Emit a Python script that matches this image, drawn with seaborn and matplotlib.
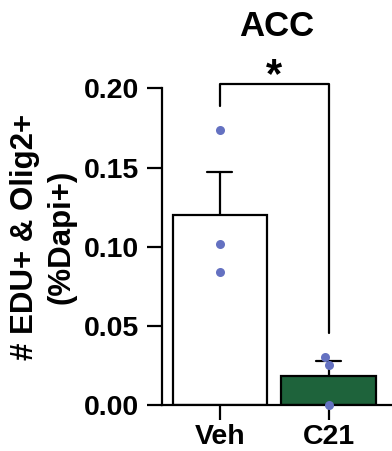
#!/usr/bin/env python3
"""Bar chart with individual points: EDU+ & Olig2+ cells in ACC, Veh vs C21."""

import matplotlib

matplotlib.use("Agg")
import matplotlib.pyplot as plt
import pandas as pd
import seaborn as sns

# values
groups = ["Veh", "C21"]
veh_values = [0.174, 0.102, 0.084]
c21_values = [0.0305, 0.0253, 0.0]
bar_colors = ["white", "#126F39"]
point_color = "#6471C1"
title = "ACC"
y_label = "# EDU+ & Olig2+\n(%Dapi+)"
y_ticks = [0.00, 0.05, 0.10, 0.15, 0.20]
sig_label = "*"


def main() -> None:
    sns.set_theme(style="ticks")
    plt.rcParams["font.family"] = ["Liberation Sans", "DejaVu Sans"]
    plt.rcParams.update(
        {
            "font.weight": "bold",
            "text.color": "black",
            "axes.labelcolor": "black",
            "xtick.color": "black",
            "ytick.color": "black",
        }
    )

    df = pd.DataFrame(
        {
            "group": [groups[0]] * len(veh_values) + [groups[1]] * len(c21_values),
            "value": veh_values + c21_values,
        }
    )

    fig = plt.figure(figsize=(3.92, 4.51), dpi=100)
    ax = fig.add_axes([0.4125, 0.102, 0.5875, 0.702])

    sns.barplot(
        data=df,
        x="group",
        y="value",
        hue="group",
        order=groups,
        palette=bar_colors,
        errorbar="se",
        capsize=0.23,
        width=0.87,
        edgecolor="black",
        linewidth=1.6,
        err_kws={"color": "black", "linewidth": 1.6, "zorder": 0.5},
        legend=False,
        ax=ax,
    )
    sns.swarmplot(
        data=df,
        x="group",
        y="value",
        order=groups,
        color=point_color,
        size=6.5,
        zorder=3,
        clip_on=False,
        ax=ax,
    )

    ax.set_xlim(-0.535, 1.58)
    ax.set_ylim(0, 0.20)
    ax.set_yticks(y_ticks)
    ax.set_yticklabels([f"{t:.2f}" for t in y_ticks])
    ax.set_xlabel("")
    ax.set_ylabel(y_label, fontsize=22.5, fontweight="bold", linespacing=1.3)
    ax.yaxis.set_label_coords(-0.37, 0.53)
    ax.tick_params(axis="both", length=11, width=1.6, labelsize=20.5, pad=5)
    ax.tick_params(axis="x", pad=2.5)
    for lab in ax.get_xticklabels() + ax.get_yticklabels():
        lab.set_fontweight("bold")
    for side in ["left", "bottom"]:
        ax.spines[side].set_linewidth(1.6)
        ax.spines[side].set_color("black")
    sns.despine(ax=ax)

    # significance bracket between the two groups
    gap = 0.015
    top = 0.203
    left_end = max(veh_values) + gap
    right_end = max(c21_values) + gap
    ax.plot(
        [0, 0, 1, 1],
        [left_end, top, top, right_end],
        color="black",
        linewidth=1.6,
        clip_on=False,
    )
    ax.text(0.5, top - 0.008, sig_label, ha="center", va="bottom", fontsize=30,
            fontweight="bold", clip_on=False)

    ax.set_title(title, fontsize=25, fontweight="bold", pad=38)

    fig.savefig("out.png", dpi=100)
    plt.close(fig)


if __name__ == "__main__":
    main()
